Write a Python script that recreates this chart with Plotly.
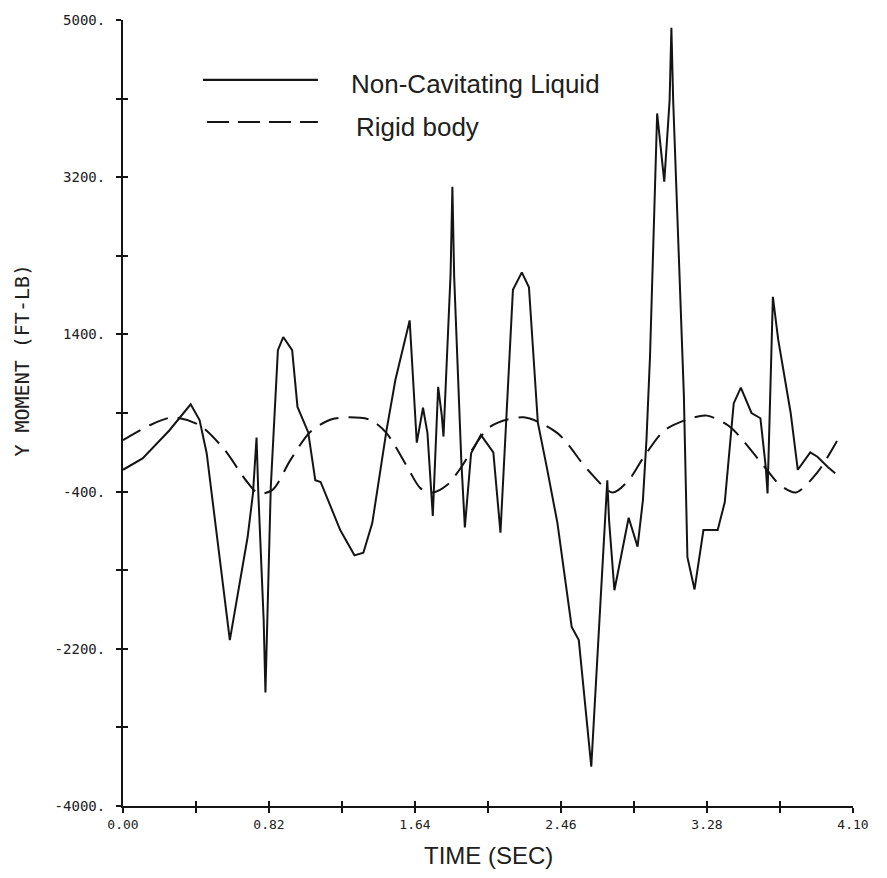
import plotly.graph_objects as go

# ---- data ----
time_solid = [0.00, 0.11, 0.26, 0.38, 0.43, 0.47, 0.60, 0.70, 0.73, 0.75, 0.76, 0.79, 0.80,
              0.83, 0.87, 0.90, 0.95, 0.98, 1.04, 1.08, 1.11, 1.22, 1.30, 1.35, 1.40, 1.48,
              1.53, 1.61, 1.65, 1.685, 1.71, 1.74, 1.77, 1.79, 1.80, 1.84, 1.85, 1.86, 1.90,
              1.92, 1.955, 2.01, 2.08, 2.12, 2.19, 2.24, 2.28, 2.33, 2.38, 2.44, 2.52, 2.56,
              2.63, 2.72, 2.73, 2.76, 2.84, 2.89, 2.92, 2.94, 2.96, 3.00, 3.04, 3.07, 3.08,
              3.09, 3.15, 3.17, 3.21, 3.26, 3.34, 3.38, 3.43, 3.47, 3.53, 3.58, 3.61, 3.62,
              3.65, 3.68, 3.75, 3.79, 3.86, 3.90, 3.96, 4.00]
moment_solid = [-150, -20, 300, 600, 420, 40, -2100, -920, -420, 220, -420, -1870, -2700,
                -350, 1220, 1370, 1220, 570, 280, -270, -290, -840, -1130, -1100, -760, 300,
                880, 1560, 160, 560, 270, -680, 800, 480, 230, 2100, 3090, 2060, -40,
                -810, 40, 250, 50, -870, 1910, 2110, 1940, 390, -120, -760, -1950, -2100,
                -3550, -270, -730, -1530, -700, -1030, -500, 190, 1150, 3930, 3150, 4080, 4910,
                4080, 710, -1150, -1520, -840, -840, -520, 610, 790, 500, 440, -120, -420,
                1830, 1340, 500, -150, 50, 0, -120, -190]

time_rigid = [0.00, 0.15, 0.28, 0.43, 0.57, 0.69, 0.76, 0.84, 0.94, 1.05, 1.16, 1.27, 1.39,
              1.48, 1.60, 1.67, 1.74, 1.82, 1.89, 2.06, 2.25, 2.44, 2.61, 2.75, 2.84, 2.92,
              3.04, 3.19, 3.28, 3.41, 3.60, 3.69, 3.78, 3.90, 4.01]
moment_rigid = [190, 360, 450, 360, 80, -270, -420, -380, -40, 280, 420, 450, 420,
                270, -130, -360, -410, -325, -150, 340, 450, 270, -150, -410, -270, -20,
                300, 440, 470, 340, -110, -325, -410, -180, 180]

x_ticks = [0.00, 0.82, 1.64, 2.46, 3.28, 4.10]
x_labels = ["0.00", "0.82", "1.64", "2.46", "3.28", "4.10"]
x_minor = [0.41, 1.23, 2.05, 2.87, 3.69]
y_ticks = [-4000, -2200, -400, 1400, 3200, 5000]
y_labels = ["-4000.", "-2200.", "-400.", "1400.", "3200.", "5000."]
y_minor = [-3100, -1300, 500, 2300, 4100]

series_names = ["Non-Cavitating Liquid", "Rigid body"]
x_title = "TIME (SEC)"
y_title = "Y MOMENT (FT-LB)"

INK = "#141414"
x_tick_font = dict(family="DejaVu Sans Mono", size=13, color="#202020")
y_tick_font = dict(family="DejaVu Sans Mono", size=14, color="#202020")

fig = go.Figure()
fig.add_trace(go.Scatter(x=time_solid, y=moment_solid, mode="lines", name=series_names[0],
                         line=dict(color=INK, width=2), showlegend=False))
fig.add_trace(go.Scatter(x=time_rigid, y=moment_rigid, mode="lines", name=series_names[1],
                         line=dict(color=INK, width=2, dash="20px,10px", shape="spline",
                                   smoothing=0.8), showlegend=False))
# helper trace so the overlay axes (inner half of the cross ticks) are drawn
fig.add_trace(go.Scatter(x=[0], y=[0], xaxis="x2", yaxis="y2", mode="markers",
                         marker=dict(opacity=0), hoverinfo="skip", showlegend=False))

common_ticks = dict(tickcolor=INK, ticklen=5, tickwidth=1.5)

fig.update_layout(
    width=879, height=870,
    margin=dict(l=115, r=34, t=12, b=72, autoexpand=False),
    paper_bgcolor="white", plot_bgcolor="white",
    showlegend=False,
    xaxis=dict(range=[0, 4.1], showline=True, linecolor=INK, linewidth=2, automargin=False,
               ticks="outside", tickvals=x_ticks, ticktext=x_labels, tickfont=x_tick_font,
               showgrid=False, zeroline=False,
               minor=dict(tickvals=x_minor, ticks="outside", showgrid=False, **common_ticks),
               **common_ticks),
    yaxis=dict(range=[-4000, 5000], showline=True, linecolor=INK, linewidth=2, automargin=False,
               ticks="outside", tickvals=y_ticks, ticktext=y_labels, tickfont=y_tick_font,
               ticklabelstandoff=8, showgrid=False, zeroline=False,
               minor=dict(tickvals=y_minor, ticks="outside", showgrid=False, **common_ticks),
               **common_ticks),
    xaxis2=dict(range=[0, 4.1], overlaying="x", anchor="y2", showline=False, automargin=False,
                ticks="inside", tickvals=x_ticks, showticklabels=False,
                showgrid=False, zeroline=False,
                minor=dict(tickvals=x_minor, ticks="inside", showgrid=False, **common_ticks),
                **common_ticks),
    yaxis2=dict(range=[-4000, 5000], overlaying="y", anchor="x2", showline=False, automargin=False,
                ticks="inside", tickvals=y_ticks, showticklabels=False,
                showgrid=False, zeroline=False,
                minor=dict(tickvals=y_minor, ticks="inside", showgrid=False, **common_ticks),
                **common_ticks),
)

# axis titles
fig.add_annotation(text=x_title, xref="paper", yref="paper", x=0.5, y=-0.063,
                   xanchor="center", yanchor="middle", showarrow=False,
                   font=dict(family="Liberation Sans", size=24, color="#202020"))
fig.add_annotation(text=y_title, xref="paper", yref="paper", x=-0.138, y=0.567,
                   xanchor="center", yanchor="middle", showarrow=False, textangle=-90,
                   font=dict(family="DejaVu Sans Mono", size=20, color="#202020"))

# hand-drawn style legend
fig.add_shape(type="line", xref="paper", yref="paper", x0=0.1096, x1=0.267, y0=0.9237, y1=0.9237,
              line=dict(color=INK, width=2.2))
fig.add_shape(type="line", xref="paper", yref="paper", x0=0.1151, x1=0.267, y0=0.8702, y1=0.8702,
              line=dict(color=INK, width=2.2, dash="22px,9px"))
fig.add_annotation(text=series_names[0], xref="paper", yref="paper", x=0.309, y=0.918,
                   xanchor="left", yanchor="middle", showarrow=False,
                   font=dict(family="Liberation Sans", size=26, color="#202020"))
fig.add_annotation(text=series_names[1], xref="paper", yref="paper", x=0.316, y=0.864,
                   xanchor="left", yanchor="middle", showarrow=False,
                   font=dict(family="Liberation Sans", size=26, color="#202020"))

fig.write_html("out.html")
